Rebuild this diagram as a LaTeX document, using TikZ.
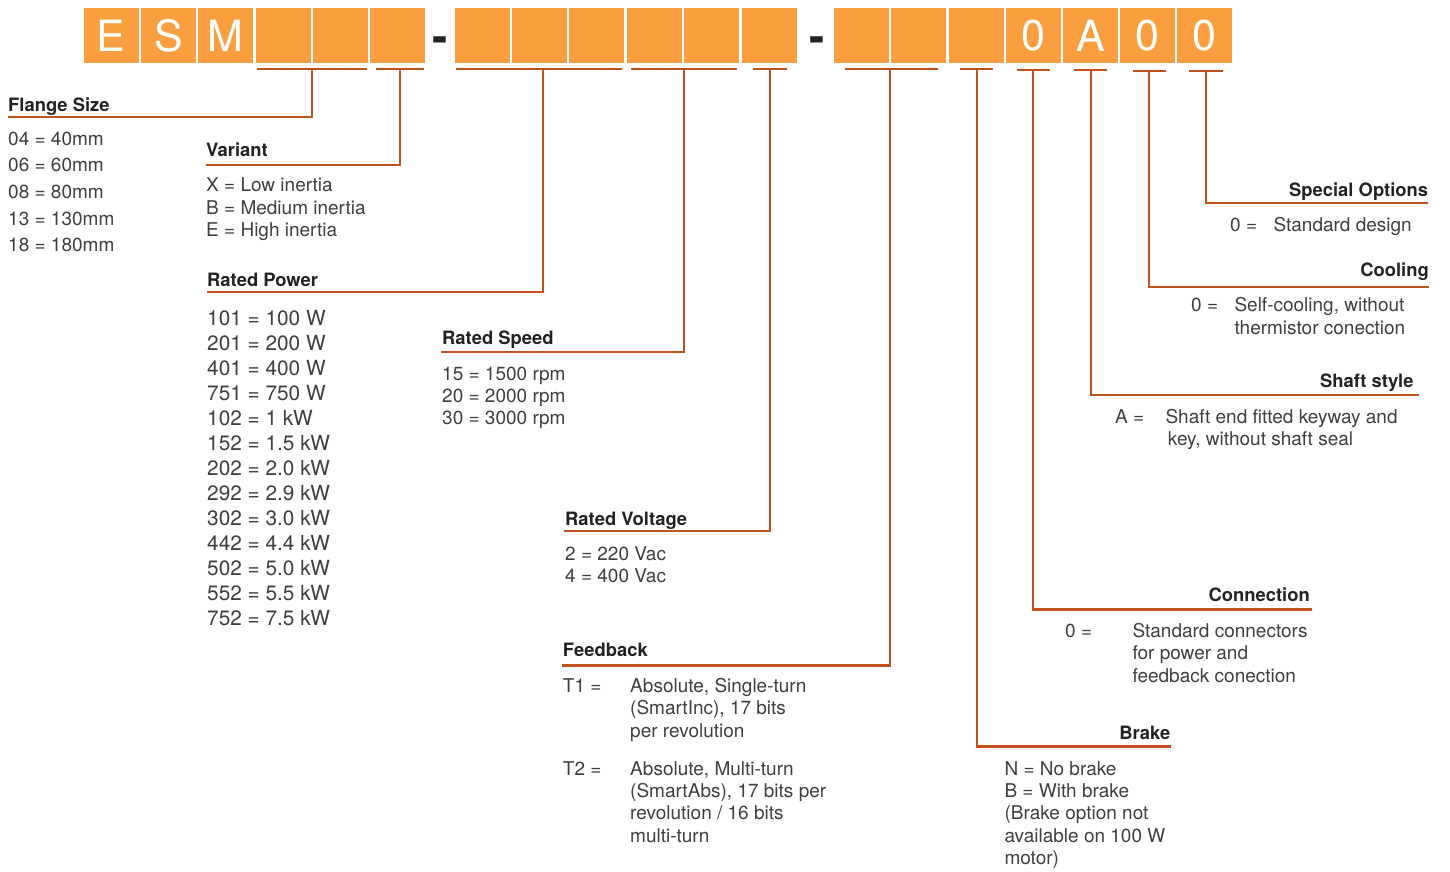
\documentclass[tikz,border=0pt]{standalone}
\usepackage{fontspec}
\setmainfont{TeX Gyre Heros}
\usepackage{xcolor}
\usetikzlibrary{calc, positioning}

\definecolor{boxorange}{HTML}{F99F3F}
\definecolor{leadred}{HTML}{C4521D}
\definecolor{txtgray}{HTML}{3E3E3E}
\definecolor{ttldark}{HTML}{222222}

\tikzset{
    codebox/.style={fill=boxorange, minimum width=54.7pt, minimum height=54.7pt,
        inner sep=0pt, text=white, font=\fontsize{43}{43}\selectfont},
    dashmark/.style={inner sep=0pt, anchor=base, text=ttldark,
        font=\fontsize{46}{46}\selectfont\bfseries},
    lead/.style={draw=leadred, line width=2.5pt},
    ttl/.style={inner sep=0pt, text=ttldark, font=\fontsize{18.4}{22}\selectfont\bfseries},
    % nhiều dòng: neo base = đường cơ sở của dòng cuối
    lst/.style={inner sep=0pt, text=txtgray, align=left, anchor=base west,
        font=\fontsize{19}{22.4}\selectfont}
}

\begin{document}
\begin{tikzpicture}[x=1pt, y=-1pt]
    \useasboundingbox (0,0) rectangle (1450,871);

    % 1. Ô mã sản phẩm
    \foreach \cx/\ch [count=\i] in {111.3/E, 168.6/S, 225.8/M, 283.3/, 340.3/, 397.5/,
        482.5/, 539.5/, 596.5/, 654.5/, 711.5/, 769.5/,
        861.5/, 918.5/, 976.5/, 1033.5/0, 1090.5/A, 1147.5/0, 1204.5/0}
        \node[codebox] (b\i) at (\cx,35.5) {\ch};
    \node[dashmark] (d1) at (440.5,52) {-};
    \node[dashmark] (d2) at (817,52) {-};

    % 2. Các đoạn ngoặc dưới ô
    \draw[lead] (257,69) -- (367,69);
    \draw[lead] (376,69) -- (424,69);
    \draw[lead] (456,69) -- (622,69);
    \draw[lead] (631,69) -- (737,69);
    \draw[lead] (753,69) -- (787,69);
    \draw[lead] (845,69) -- (938,69);
    \draw[lead] (960,69) -- (993,69);
    \draw[lead] (1017,70) -- (1050,70);
    \draw[lead] (1074,70) -- (1107,70);
    \draw[lead] (1133,71) -- (1166,71);
    \draw[lead] (1189,71) -- (1223,71);

    % 3. Điểm gấp của đường dẫn
    \coordinate (kFlange) at (312,69);   \coordinate (uFlange) at (8,117);
    \coordinate (kVariant) at (400,69);  \coordinate (uVariant) at (206,165);
    \coordinate (kPower) at (543,69);    \coordinate (uPower) at (207,292);
    \coordinate (kSpeed) at (684,69);    \coordinate (uSpeed) at (441,352);
    \coordinate (kVolt) at (770,69);     \coordinate (uVolt) at (564,531);
    \coordinate (kFeed) at (890,69);     \coordinate (uFeed) at (562,665.5);
    \coordinate (kBrake) at (977,69);    \coordinate (uBrake) at (1171,746.5);
    \coordinate (kConn) at (1033,70);    \coordinate (uConn) at (1312,609.5);
    \coordinate (kShaft) at (1091,70);   \coordinate (uShaft) at (1419,395);
    \coordinate (kCool) at (1149,71);    \coordinate (uCool) at (1429,287);
    \coordinate (kSpec) at (1206,71);    \coordinate (uSpec) at (1428,203);

    \foreach \k in {Flange, Variant, Power, Speed, Volt, Feed, Brake, Conn, Shaft, Cool, Spec}
        \draw[lead] (k\k) |- (u\k);

    % 4. Tiêu đề và giá trị bên trái
    \node[ttl, anchor=base west] (tFlange) at (8,111) {Flange Size};
    \node[lst, font=\fontsize{19}{26.7}\selectfont] (lFlange) at (8,251.8)
        {04 = 40mm\\06 = 60mm\\08 = 80mm\\13 = 130mm\\18 = 180mm};

    \node[ttl, anchor=base west] (tVariant) at (206,156) {Variant};
    \node[lst] (lVariant) at (206,236.5)
        {X = Low inertia\\B = Medium inertia\\E = High inertia};

    \node[ttl, anchor=base west] (tPower) at (207,286.7) {Rated Power};
    \node[lst, font=\fontsize{20.8}{25.05}\selectfont] (lPower) at (207,625.9)
        {101 = 100 W\\201 = 200 W\\401 = 400 W\\751 = 750 W\\102 = 1 kW\\152 = 1.5 kW\\202 = 2.0 kW\\
         292 = 2.9 kW\\302 = 3.0 kW\\442 = 4.4 kW\\502 = 5.0 kW\\552 = 5.5 kW\\752 = 7.5 kW};

    \node[ttl, anchor=base west] (tSpeed) at (442,344) {Rated Speed};
    \node[lst] (lSpeed) at (442,424.8)
        {15 = 1500 rpm\\20 = 2000 rpm\\30 = 3000 rpm};

    \node[ttl, anchor=base west] (tVolt) at (565,525) {Rated Voltage};
    \node[lst] (lVolt) at (565,582.4) {2 = 220 Vac\\4 = 400 Vac};

    \node[ttl, anchor=base west] (tFeed) at (562.7,656.7) {Feedback};
    \node[lst] (kT1) at (562.7,692.3) {T1 =};
    \node[lst] (vT1) at (630,737.1)
        {Absolute, Single-turn\\(SmartInc), 17 bits\\per revolution};
    \node[lst] (kT2) at (562.7,775) {T2 =};
    \node[lst] (vT2) at (630,842.2)
        {Absolute, Multi-turn\\(SmartAbs), 17 bits per\\revolution / 16 bits\\multi-turn};

    % 5. Tiêu đề và giá trị bên phải
    \node[ttl, anchor=base east] (tBrake) at (1170.5,739) {Brake};
    \node[lst] (lBrake) at (1004.3,864.6)
        {N = No brake\\B = With brake\\(Brake option not\\available on 100 W\\motor)};

    \node[ttl, anchor=base east] (tConn) at (1310,601) {Connection};
    \node[lst] (kConn0) at (1065,637.3) {0 =};
    \node[lst] (vConn0) at (1132.3,682.1)
        {Standard connectors\\for power and\\feedback conection};

    \node[ttl, anchor=base east] (tShaft) at (1413.7,387.3) {Shaft style};
    \node[lst] (kShaftA) at (1115,423.3) {A =};
    \node[lst] (vShaftA) at (1165.3,445.7)
        {Shaft end fitted keyway and\\\hspace*{2.4pt}key, without shaft seal};

    \node[ttl, anchor=base east] (tCool) at (1429,276) {Cooling};
    \node[lst] (kCool0) at (1191,311.7) {0 =};
    \node[lst] (vCool0) at (1234.3,334.1)
        {Self-cooling, without\\thermistor conection};

    \node[ttl, anchor=base east] (tSpec) at (1428.3,196) {Special Options};
    \node[lst] (kSpec0) at (1230,231) {0 =};
    \node[lst] (vSpec0) at (1273.3,231) {Standard design};
\end{tikzpicture}
\end{document}
